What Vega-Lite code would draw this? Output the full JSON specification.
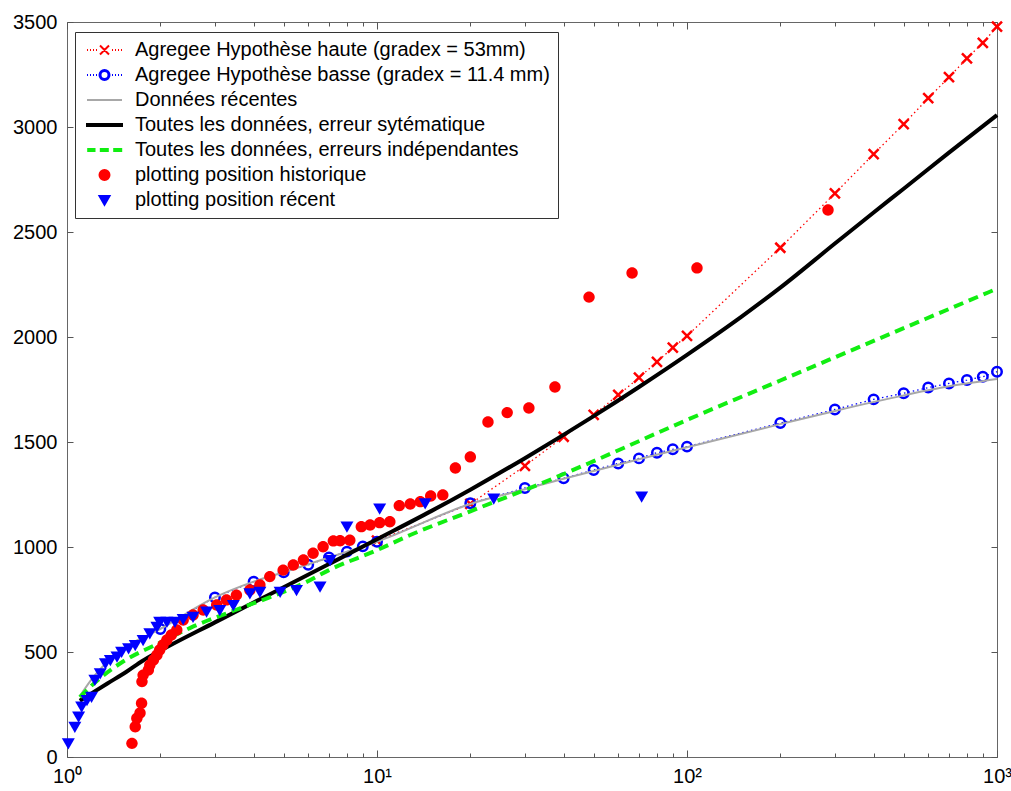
{
  "$schema": "https://vega.github.io/schema/vega-lite/v6.json",
  "width": 930,
  "height": 735,
  "autosize": {"type": "none"},
  "padding": {"left": 67, "top": 22, "right": 14, "bottom": 34},
  "background": "white",
  "data": {"values": [
    {"s":"h","T":10,"Q":1030},{"s":"h","T":20,"Q":1205},{"s":"h","T":30,"Q":1386},{"s":"h","T":40,"Q":1525},{"s":"h","T":50,"Q":1629},{"s":"h","T":60,"Q":1724},{"s":"h","T":70,"Q":1806},{"s":"h","T":80,"Q":1882},{"s":"h","T":90,"Q":1949},{"s":"h","T":100,"Q":2005},{"s":"h","T":200,"Q":2425},{"s":"h","T":300,"Q":2684},{"s":"h","T":400,"Q":2871},{"s":"h","T":500,"Q":3014},{"s":"h","T":600,"Q":3137},{"s":"h","T":700,"Q":3237},{"s":"h","T":800,"Q":3327},{"s":"h","T":900,"Q":3401},{"s":"h","T":1000,"Q":3478},
    {"s":"b","T":2,"Q":610},{"s":"b","T":3,"Q":760},{"s":"b","T":4,"Q":835},{"s":"b","T":5,"Q":880},{"s":"b","T":6,"Q":915},{"s":"b","T":7,"Q":950},{"s":"b","T":8,"Q":978},{"s":"b","T":9,"Q":1003},{"s":"b","T":10,"Q":1025},{"s":"b","T":20,"Q":1208},{"s":"b","T":30,"Q":1281},{"s":"b","T":40,"Q":1327},{"s":"b","T":50,"Q":1367},{"s":"b","T":60,"Q":1398},{"s":"b","T":70,"Q":1422},{"s":"b","T":80,"Q":1449},{"s":"b","T":90,"Q":1465},{"s":"b","T":100,"Q":1478},{"s":"b","T":200,"Q":1590},{"s":"b","T":300,"Q":1655},{"s":"b","T":400,"Q":1703},{"s":"b","T":500,"Q":1732},{"s":"b","T":600,"Q":1759},{"s":"b","T":700,"Q":1779},{"s":"b","T":800,"Q":1795},{"s":"b","T":900,"Q":1811},{"s":"b","T":1000,"Q":1835},
    {"s":"r","T":1.1,"Q":290},{"s":"r","T":1.2,"Q":370},{"s":"r","T":1.5,"Q":510},{"s":"r","T":2,"Q":610},{"s":"r","T":3,"Q":760},{"s":"r","T":4,"Q":835},{"s":"r","T":5,"Q":880},{"s":"r","T":7,"Q":950},{"s":"r","T":10,"Q":1025},{"s":"r","T":20,"Q":1205},{"s":"r","T":30,"Q":1275},{"s":"r","T":40,"Q":1325},{"s":"r","T":50,"Q":1362},{"s":"r","T":70,"Q":1418},{"s":"r","T":100,"Q":1475},{"s":"r","T":200,"Q":1585},{"s":"r","T":300,"Q":1648},{"s":"r","T":500,"Q":1722},{"s":"r","T":700,"Q":1765},{"s":"r","T":1000,"Q":1800},
    {"s":"s","T":1.1,"Q":268},{"s":"s","T":1.2,"Q":303},{"s":"s","T":1.35,"Q":350},{"s":"s","T":1.56,"Q":407},{"s":"s","T":1.75,"Q":457},{"s":"s","T":2,"Q":506},{"s":"s","T":3,"Q":641},{"s":"s","T":4,"Q":736},{"s":"s","T":5,"Q":808},{"s":"s","T":7,"Q":919},{"s":"s","T":10,"Q":1037},{"s":"s","T":15,"Q":1172},{"s":"s","T":20,"Q":1273},{"s":"s","T":30,"Q":1423},{"s":"s","T":50,"Q":1623},{"s":"s","T":70,"Q":1762},{"s":"s","T":100,"Q":1915},{"s":"s","T":150,"Q":2097},{"s":"s","T":200,"Q":2235},{"s":"s","T":300,"Q":2445},{"s":"s","T":400,"Q":2593},{"s":"s","T":500,"Q":2706},{"s":"s","T":700,"Q":2878},{"s":"s","T":1000,"Q":3057},
    {"s":"i","T":1.1,"Q":285},{"s":"i","T":1.2,"Q":340},{"s":"i","T":1.5,"Q":450},{"s":"i","T":2,"Q":545},{"s":"i","T":2.5,"Q":615},{"s":"i","T":3.5,"Q":700},{"s":"i","T":4.5,"Q":760},{"s":"i","T":5.8,"Q":827},{"s":"i","T":7,"Q":890},{"s":"i","T":10,"Q":985},{"s":"i","T":12.8,"Q":1057},{"s":"i","T":20,"Q":1170},{"s":"i","T":36,"Q":1319},{"s":"i","T":50,"Q":1409},{"s":"i","T":100,"Q":1605},{"s":"i","T":200,"Q":1793},{"s":"i","T":500,"Q":2042},{"s":"i","T":1000,"Q":2230},
    {"s":"p","T":1.62,"Q":65},{"s":"p","T":1.66,"Q":144},{"s":"p","T":1.68,"Q":185},{"s":"p","T":1.72,"Q":210},{"s":"p","T":1.74,"Q":256},{"s":"p","T":1.745,"Q":359},{"s":"p","T":1.76,"Q":390},{"s":"p","T":1.83,"Q":414},{"s":"p","T":1.85,"Q":438},{"s":"p","T":1.9,"Q":462},{"s":"p","T":1.95,"Q":486},{"s":"p","T":1.99,"Q":510},{"s":"p","T":2.04,"Q":533},{"s":"p","T":2.1,"Q":557},{"s":"p","T":2.17,"Q":581},{"s":"p","T":2.26,"Q":605},{"s":"p","T":2.37,"Q":652},{"s":"p","T":2.55,"Q":676},{"s":"p","T":2.75,"Q":700},{"s":"p","T":3.04,"Q":724},{"s":"p","T":3.27,"Q":748},{"s":"p","T":3.52,"Q":771},{"s":"p","T":3.89,"Q":795},{"s":"p","T":4.19,"Q":819},{"s":"p","T":4.51,"Q":859},{"s":"p","T":4.98,"Q":890},{"s":"p","T":5.37,"Q":914},{"s":"p","T":5.79,"Q":938},{"s":"p","T":6.22,"Q":970},{"s":"p","T":6.7,"Q":1001},{"s":"p","T":7.23,"Q":1029},{"s":"p","T":7.6,"Q":1030},{"s":"p","T":8.17,"Q":1032},{"s":"p","T":8.9,"Q":1097},{"s":"p","T":9.5,"Q":1105},{"s":"p","T":10.2,"Q":1116},{"s":"p","T":11,"Q":1120},{"s":"p","T":11.8,"Q":1197},{"s":"p","T":12.8,"Q":1205},{"s":"p","T":13.8,"Q":1216},{"s":"p","T":14.9,"Q":1243},{"s":"p","T":16.3,"Q":1248},{"s":"p","T":17.9,"Q":1376},{"s":"p","T":20,"Q":1429},{"s":"p","T":22.8,"Q":1595},{"s":"p","T":26.3,"Q":1640},{"s":"p","T":30.9,"Q":1662},{"s":"p","T":37.5,"Q":1762},{"s":"p","T":48.3,"Q":2190},{"s":"p","T":66.5,"Q":2305},{"s":"p","T":107.7,"Q":2329},{"s":"p","T":285,"Q":2605},
    {"s":"t","T":1.01,"Q":65},{"s":"t","T":1.06,"Q":144},{"s":"t","T":1.09,"Q":192},{"s":"t","T":1.115,"Q":240},{"s":"t","T":1.16,"Q":271},{"s":"t","T":1.2,"Q":287},{"s":"t","T":1.23,"Q":367},{"s":"t","T":1.28,"Q":399},{"s":"t","T":1.33,"Q":446},{"s":"t","T":1.38,"Q":462},{"s":"t","T":1.45,"Q":478},{"s":"t","T":1.5,"Q":501},{"s":"t","T":1.58,"Q":517},{"s":"t","T":1.66,"Q":533},{"s":"t","T":1.76,"Q":557},{"s":"t","T":1.85,"Q":589},{"s":"t","T":1.95,"Q":620},{"s":"t","T":1.99,"Q":644},{"s":"t","T":2.1,"Q":644},{"s":"t","T":2.23,"Q":644},{"s":"t","T":2.37,"Q":657},{"s":"t","T":2.55,"Q":668},{"s":"t","T":2.82,"Q":692},{"s":"t","T":3.11,"Q":700},{"s":"t","T":3.44,"Q":724},{"s":"t","T":3.89,"Q":779},{"s":"t","T":4.19,"Q":787},{"s":"t","T":4.87,"Q":787},{"s":"t","T":5.5,"Q":795},{"s":"t","T":6.55,"Q":811},{"s":"t","T":7.06,"Q":938},{"s":"t","T":8,"Q":1097},{"s":"t","T":10.2,"Q":1183},{"s":"t","T":14.3,"Q":1208},{"s":"t","T":23.8,"Q":1231},{"s":"t","T":71.4,"Q":1240}
  ]},
  "config": {
    "view": {"stroke": "#666", "strokeWidth": 1},
    "axis": {"grid": false, "domain": false, "tickColor": "#555", "tickWidth": 1, "labelFont": "Liberation Sans", "labelFontSize": 20, "labelColor": "#000", "labelFlush": false, "labelOverlap": false}
  },
  "resolve": {"axis": {"x": "independent", "y": "independent"}},
  "encoding": {
    "color": {
      "field": "s", "type": "nominal",
      "scale": {"domain": ["h","b","r","s","i","p","t"], "range": ["#ff0000","#0000ff","#a8a8a8","#000000","#11ee11","#ff0000","#0000ff"]},
      "legend": {
        "orient": "none", "legendX": 8, "legendY": 10, "title": null, "direction": "vertical",
        "strokeColor": "#333", "fillColor": "white", "padding": 8,
        "labelFont": "Liberation Sans", "labelFontSize": 20, "labelColor": "black", "labelLimit": 0,
        "labelOffset": 20.5, "symbolOffset": 11.5, "rowPadding": 5, "symbolSize": 100, "symbolStrokeWidth": 2,
        "labelExpr": "datum.value=='h' ? 'Agregee Hypothèse haute (gradex = 53mm)' : datum.value=='b' ? 'Agregee Hypothèse basse (gradex = 11.4 mm)' : datum.value=='r' ? 'Données récentes' : datum.value=='s' ? 'Toutes les données, erreur sytématique' : datum.value=='i' ? 'Toutes les données, erreurs indépendantes' : datum.value=='p' ? 'plotting position historique' : 'plotting position récent'"
      }
    }
  },
  "layer": [
    {
      "transform": [{"filter": "datum.s=='h'"}],
      "mark": {"type": "line", "strokeWidth": 1.3, "strokeDash": [1.5, 3]},
      "encoding": {
        "x": {"field": "T", "type": "quantitative", "scale": {"type": "log", "domain": [1, 1000], "nice": false},
              "axis": {"orient": "bottom", "title": null, "values": [1, 10, 100, 1000], "offset": -7, "tickSize": 7, "labelPadding": 9, "labelExpr": "'10' + (datum.value < 5 ? '⁰' : datum.value < 50 ? '¹' : datum.value < 500 ? '²' : '³')"}},
        "y": {"field": "Q", "type": "quantitative", "scale": {"domain": [0, 3500], "nice": false},
              "axis": {"orient": "left", "title": null, "format": "d", "values": [0, 500, 1000, 1500, 2000, 2500, 3000, 3500], "offset": -6, "tickSize": 6, "labelPadding": 10}}
      }
    },
    {
      "transform": [{"filter": "datum.s=='h'"}],
      "mark": {"type": "point", "shape": "M-1,-1L1,1M-1,1L1,-1", "size": 100, "strokeWidth": 2.5, "filled": false, "opacity": 1},
      "encoding": {
        "x": {"field": "T", "type": "quantitative", "scale": {"type": "log", "domain": [1, 1000], "nice": false},
              "axis": {"orient": "bottom", "title": null, "values": [2,3,4,5,6,7,8,9,20,30,40,50,60,70,80,90,200,300,400,500,600,700,800,900], "offset": -4, "tickSize": 4, "labels": false}},
        "y": {"field": "Q", "type": "quantitative", "scale": {"domain": [0, 3500], "nice": false},
              "axis": {"orient": "right", "title": null, "values": [0, 500, 1000, 1500, 2000, 2500, 3000, 3500], "offset": -6, "tickSize": 6, "labels": false}}
      }
    },
    {
      "transform": [{"filter": "datum.s=='b'"}],
      "mark": {"type": "line", "strokeWidth": 1.3, "strokeDash": [1.5, 3]},
      "encoding": {
        "x": {"field": "T", "type": "quantitative", "scale": {"type": "log", "domain": [1, 1000], "nice": false},
              "axis": {"orient": "top", "title": null, "values": [1, 10, 100, 1000], "offset": -7, "tickSize": 7, "labels": false}},
        "y": {"field": "Q", "type": "quantitative", "scale": {"domain": [0, 3500], "nice": false}, "axis": null}
      }
    },
    {
      "transform": [{"filter": "datum.s=='b'"}],
      "mark": {"type": "point", "shape": "circle", "size": 90, "strokeWidth": 2.5, "filled": false, "opacity": 1},
      "encoding": {
        "x": {"field": "T", "type": "quantitative", "scale": {"type": "log", "domain": [1, 1000], "nice": false},
              "axis": {"orient": "top", "title": null, "values": [2,3,4,5,6,7,8,9,20,30,40,50,60,70,80,90,200,300,400,500,600,700,800,900], "offset": -4, "tickSize": 4, "labels": false}},
        "y": {"field": "Q", "type": "quantitative", "scale": {"domain": [0, 3500], "nice": false}, "axis": null}
      }
    },
    {
      "transform": [{"filter": "datum.s=='r'"}],
      "mark": {"type": "line", "strokeWidth": 2, "interpolate": "monotone"},
      "encoding": {
        "x": {"field": "T", "type": "quantitative", "scale": {"type": "log", "domain": [1, 1000], "nice": false}, "axis": null},
        "y": {"field": "Q", "type": "quantitative", "scale": {"domain": [0, 3500], "nice": false}, "axis": null}
      }
    },
    {
      "transform": [{"filter": "datum.s=='s'"}],
      "mark": {"type": "line", "strokeWidth": 4, "interpolate": "monotone"},
      "encoding": {
        "x": {"field": "T", "type": "quantitative", "scale": {"type": "log", "domain": [1, 1000], "nice": false}, "axis": null},
        "y": {"field": "Q", "type": "quantitative", "scale": {"domain": [0, 3500], "nice": false}, "axis": null}
      }
    },
    {
      "transform": [{"filter": "datum.s=='i'"}],
      "mark": {"type": "line", "strokeWidth": 4, "strokeDash": [10, 6], "interpolate": "monotone"},
      "encoding": {
        "x": {"field": "T", "type": "quantitative", "scale": {"type": "log", "domain": [1, 1000], "nice": false}, "axis": null},
        "y": {"field": "Q", "type": "quantitative", "scale": {"domain": [0, 3500], "nice": false}, "axis": null}
      }
    },
    {
      "transform": [{"filter": "datum.s=='p'"}],
      "mark": {"type": "point", "size": 130, "filled": true, "opacity": 1, "strokeWidth": 0},
      "encoding": {
        "x": {"field": "T", "type": "quantitative", "scale": {"type": "log", "domain": [1, 1000], "nice": false}, "axis": null},
        "y": {"field": "Q", "type": "quantitative", "scale": {"domain": [0, 3500], "nice": false}, "axis": null},
        "shape": {"field": "s", "type": "nominal",
          "scale": {"domain": ["h","b","r","s","i","p","t"], "range": [
            "M-3.5,0h0.2M-2.9,0h0.2M-2.3,0h0.2M-1.7,0h0.2M1.5,0h0.2M2.1,0h0.2M2.7,0h0.2M3.3,0h0.2M-0.9,-0.9L0.9,0.9M-0.9,0.9L0.9,-0.9",
            "M-3.5,0h0.2M-2.9,0h0.2M-2.3,0h0.2M-1.7,0h0.2M1.5,0h0.2M2.1,0h0.2M2.7,0h0.2M3.3,0h0.2M1,0A1,1 0 1,1 -1,0A1,1 0 1,1 1,0ZM0.8,0A0.8,0.8 0 1,0 -0.8,0A0.8,0.8 0 1,0 0.8,0Z",
            "M-3.5,0L3.5,0",
            "M-3.5,-0.2L3.5,-0.2L3.5,0.2L-3.5,0.2Z",
            "M-3.26,-0.2h1.26v0.4h-1.26ZM-0.74,-0.2h1.4v0.4h-1.4ZM1.94,-0.2h1.4v0.4h-1.4Z",
            "M1,0A1,1 0 1,1 -1,0A1,1 0 1,1 1,0Z",
            "M-1,-0.78L1,-0.78L0,0.95Z"
          ]},
          "legend": {
            "orient": "none", "legendX": 8, "legendY": 10, "title": null, "direction": "vertical",
            "strokeColor": "#333", "fillColor": "white", "padding": 8,
            "labelFont": "Liberation Sans", "labelFontSize": 20, "labelColor": "black", "labelLimit": 0,
            "labelOffset": 20.5, "symbolOffset": 11.5, "rowPadding": 5, "symbolSize": 100, "symbolStrokeWidth": 2,
            "labelExpr": "datum.value=='h' ? 'Agregee Hypothèse haute (gradex = 53mm)' : datum.value=='b' ? 'Agregee Hypothèse basse (gradex = 11.4 mm)' : datum.value=='r' ? 'Données récentes' : datum.value=='s' ? 'Toutes les données, erreur sytématique' : datum.value=='i' ? 'Toutes les données, erreurs indépendantes' : datum.value=='p' ? 'plotting position historique' : 'plotting position récent'"
          }
        }
      }
    },
    {
      "transform": [{"filter": "datum.s=='t'"}],
      "mark": {"type": "point", "size": 169, "filled": true, "opacity": 1, "strokeWidth": 0},
      "encoding": {
        "x": {"field": "T", "type": "quantitative", "scale": {"type": "log", "domain": [1, 1000], "nice": false}, "axis": null},
        "y": {"field": "Q", "type": "quantitative", "scale": {"domain": [0, 3500], "nice": false}, "axis": null},
        "shape": {"field": "s", "type": "nominal",
          "scale": {"domain": ["h","b","r","s","i","p","t"], "range": [
            "M-3.5,0h0.2M-2.9,0h0.2M-2.3,0h0.2M-1.7,0h0.2M1.5,0h0.2M2.1,0h0.2M2.7,0h0.2M3.3,0h0.2M-0.9,-0.9L0.9,0.9M-0.9,0.9L0.9,-0.9",
            "M-3.5,0h0.2M-2.9,0h0.2M-2.3,0h0.2M-1.7,0h0.2M1.5,0h0.2M2.1,0h0.2M2.7,0h0.2M3.3,0h0.2M1,0A1,1 0 1,1 -1,0A1,1 0 1,1 1,0ZM0.8,0A0.8,0.8 0 1,0 -0.8,0A0.8,0.8 0 1,0 0.8,0Z",
            "M-3.5,0L3.5,0",
            "M-3.5,-0.2L3.5,-0.2L3.5,0.2L-3.5,0.2Z",
            "M-3.26,-0.2h1.26v0.4h-1.26ZM-0.74,-0.2h1.4v0.4h-1.4ZM1.94,-0.2h1.4v0.4h-1.4Z",
            "M1,0A1,1 0 1,1 -1,0A1,1 0 1,1 1,0Z",
            "M-1,-0.78L1,-0.78L0,0.95Z"
          ]},
          "legend": {
            "orient": "none", "legendX": 8, "legendY": 10, "title": null, "direction": "vertical",
            "strokeColor": "#333", "fillColor": "white", "padding": 8,
            "labelFont": "Liberation Sans", "labelFontSize": 20, "labelColor": "black", "labelLimit": 0,
            "labelOffset": 20.5, "symbolOffset": 11.5, "rowPadding": 5, "symbolSize": 100, "symbolStrokeWidth": 2,
            "labelExpr": "datum.value=='h' ? 'Agregee Hypothèse haute (gradex = 53mm)' : datum.value=='b' ? 'Agregee Hypothèse basse (gradex = 11.4 mm)' : datum.value=='r' ? 'Données récentes' : datum.value=='s' ? 'Toutes les données, erreur sytématique' : datum.value=='i' ? 'Toutes les données, erreurs indépendantes' : datum.value=='p' ? 'plotting position historique' : 'plotting position récent'"
          }
        }
      }
    }
  ]
}
